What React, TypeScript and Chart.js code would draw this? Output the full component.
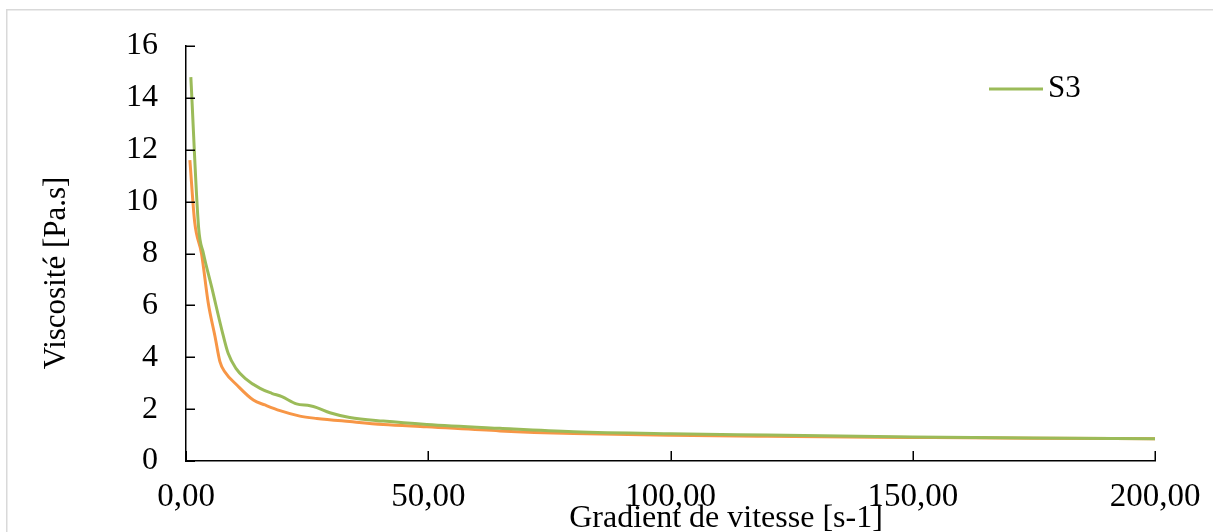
import React, { useEffect, useRef } from 'react';
import { Chart, registerables } from 'chart.js';

Chart.register(...registerables);

// Series S3 (green)
const shearS3 = [1.0, 2.6, 3.6, 5.3, 7.4, 8.7, 10.3, 12.2, 15.3, 17.7, 19.8, 22.8, 25.6, 27.0, 29.7, 33.8, 40.7, 49.7, 64.8, 80, 100, 120, 150, 175, 200];
const viscS3 = [14.8, 9.0, 8.0, 6.7, 5.05, 4.15, 3.57, 3.19, 2.8, 2.61, 2.48, 2.2, 2.13, 2.06, 1.86, 1.68, 1.54, 1.41, 1.26, 1.13, 1.05, 1.0, 0.93, 0.89, 0.86];

// Second series (orange, not in legend)
const shearS2 = [0.8, 1.8, 3.2, 4.6, 6.0, 7.0, 8.0, 10.5, 13.9, 16.3, 19.4, 23.5, 27.0, 33.8, 40.7, 49.7, 64.8, 80, 100, 120, 150, 175, 200];
const viscS2 = [11.6, 9.2, 8.0, 6.08, 4.79, 3.83, 3.44, 2.93, 2.35, 2.16, 1.94, 1.73, 1.64, 1.52, 1.41, 1.32, 1.16, 1.06, 0.99, 0.95, 0.91, 0.88, 0.86];

const seriesLabels = ['S3', 'S2'];
const seriesColors = ['#9BBB59', '#F79646'];
const xTicks = [0, 50, 100, 150, 200];
const yTicks = [0, 2, 4, 6, 8, 10, 12, 14, 16];
const xTitle = 'Gradient de vitesse [s-1]';
const yTitle = 'Viscosité [Pa.s]';

const FAMILY = '"Liberation Serif", "Times New Roman", serif';

export default function App() {
  const ref = useRef<HTMLCanvasElement>(null);

  useEffect(() => {
    document.body.style.margin = '0';
    const canvas = ref.current;
    if (!canvas) return;

    const decor = {
      id: 'decor',
      beforeDraw(chart: any) {
        const ctx = chart.ctx;
        ctx.save();
        ctx.strokeStyle = '#d9d9d9';
        ctx.lineWidth = 1.5;
        ctx.strokeRect(6.75, 9.75, 1400, 700);
        ctx.restore();
      },
      afterDraw(chart: any) {
        const ctx = chart.ctx;
        const xs = chart.scales.x;
        const ys = chart.scales.y;
        const area = chart.chartArea;
        ctx.save();
        ctx.strokeStyle = '#000';
        ctx.lineWidth = 1.5;
        ctx.beginPath();
        xTicks.forEach((v) => {
          const px = Math.round(xs.getPixelForValue(v)) + 0.25;
          ctx.moveTo(px, area.bottom);
          ctx.lineTo(px, area.bottom - 10);
        });
        yTicks.forEach((v) => {
          const py = Math.round(ys.getPixelForValue(v)) + 0.25;
          ctx.moveTo(area.left, py);
          ctx.lineTo(area.left + 9, py);
        });
        ctx.stroke();

        // axis titles
        ctx.fillStyle = '#000';
        ctx.textAlign = 'center';
        ctx.textBaseline = 'middle';
        ctx.font = `32px ${FAMILY}`;
        ctx.fillText(xTitle, 726, 519);
        ctx.save();
        ctx.translate(57, 273);
        ctx.rotate(-Math.PI / 2);
        ctx.font = `31px ${FAMILY}`;
        ctx.fillText(yTitle, 0, 0);
        ctx.restore();

        // legend (S3 only)
        const ly = 89;
        ctx.strokeStyle = seriesColors[0];
        ctx.lineWidth = 3;
        ctx.beginPath();
        ctx.moveTo(989, ly);
        ctx.lineTo(1043, ly);
        ctx.stroke();
        ctx.fillStyle = '#000';
        ctx.font = `31px ${FAMILY}`;
        ctx.textAlign = 'left';
        ctx.textBaseline = 'middle';
        ctx.fillText(seriesLabels[0], 1048, ly);
        ctx.restore();
      },
    };

    const zeroPad = (s: any) => {
      s.paddingLeft = 0;
      s.paddingRight = 0;
      s.paddingTop = 0;
      s.paddingBottom = 0;
    };

    const chart = new Chart(canvas, {
      type: 'line',
      data: {
        datasets: [
          {
            label: seriesLabels[0],
            data: shearS3.map((x, i) => ({ x, y: viscS3[i] })),
            borderColor: seriesColors[0],
            backgroundColor: seriesColors[0],
            borderWidth: 3,
            pointRadius: 0,
            cubicInterpolationMode: 'monotone',
            fill: false,
          },
          {
            label: seriesLabels[1],
            data: shearS2.map((x, i) => ({ x, y: viscS2[i] })),
            borderColor: seriesColors[1],
            backgroundColor: seriesColors[1],
            borderWidth: 3,
            pointRadius: 0,
            cubicInterpolationMode: 'monotone',
            fill: false,
          },
        ],
      },
      options: {
        animation: false,
        responsive: false,
        maintainAspectRatio: false,
        layout: { padding: { top: 46, right: 58, bottom: 0, left: 0 } },
        plugins: { legend: { display: false }, tooltip: { enabled: false } },
        scales: {
          x: {
            type: 'linear',
            min: 0,
            max: 200,
            afterBuildTicks: (s: any) => {
              s.ticks = xTicks.map((v) => ({ value: v }));
            },
            grid: { display: false, drawTicks: false },
            border: { display: true, color: '#000', width: 1.5 },
            ticks: {
              font: { family: FAMILY, size: 33 },
              color: '#000',
              padding: 17,
              maxRotation: 0,
              autoSkip: false,
              callback: (v: any) => Number(v).toFixed(2).replace('.', ','),
            },
            title: { display: false },
            afterFit: (s: any) => {
              s.height = 71;
              zeroPad(s);
            },
          },
          y: {
            type: 'linear',
            min: 0,
            max: 16,
            afterBuildTicks: (s: any) => {
              s.ticks = yTicks.map((v) => ({ value: v }));
            },
            grid: { display: false, drawTicks: false },
            border: { display: true, color: '#000', width: 1.5 },
            ticks: { font: { family: FAMILY, size: 32 }, color: '#000', padding: 28, autoSkip: false },
            title: { display: false },
            afterFit: (s: any) => {
              s.width = 186;
              zeroPad(s);
            },
          },
        },
      } as any,
      plugins: [decor],
    });

    return () => chart.destroy();
  }, []);

  return <canvas ref={ref} width={1213} height={532} style={{ display: 'block' }} />;
}
